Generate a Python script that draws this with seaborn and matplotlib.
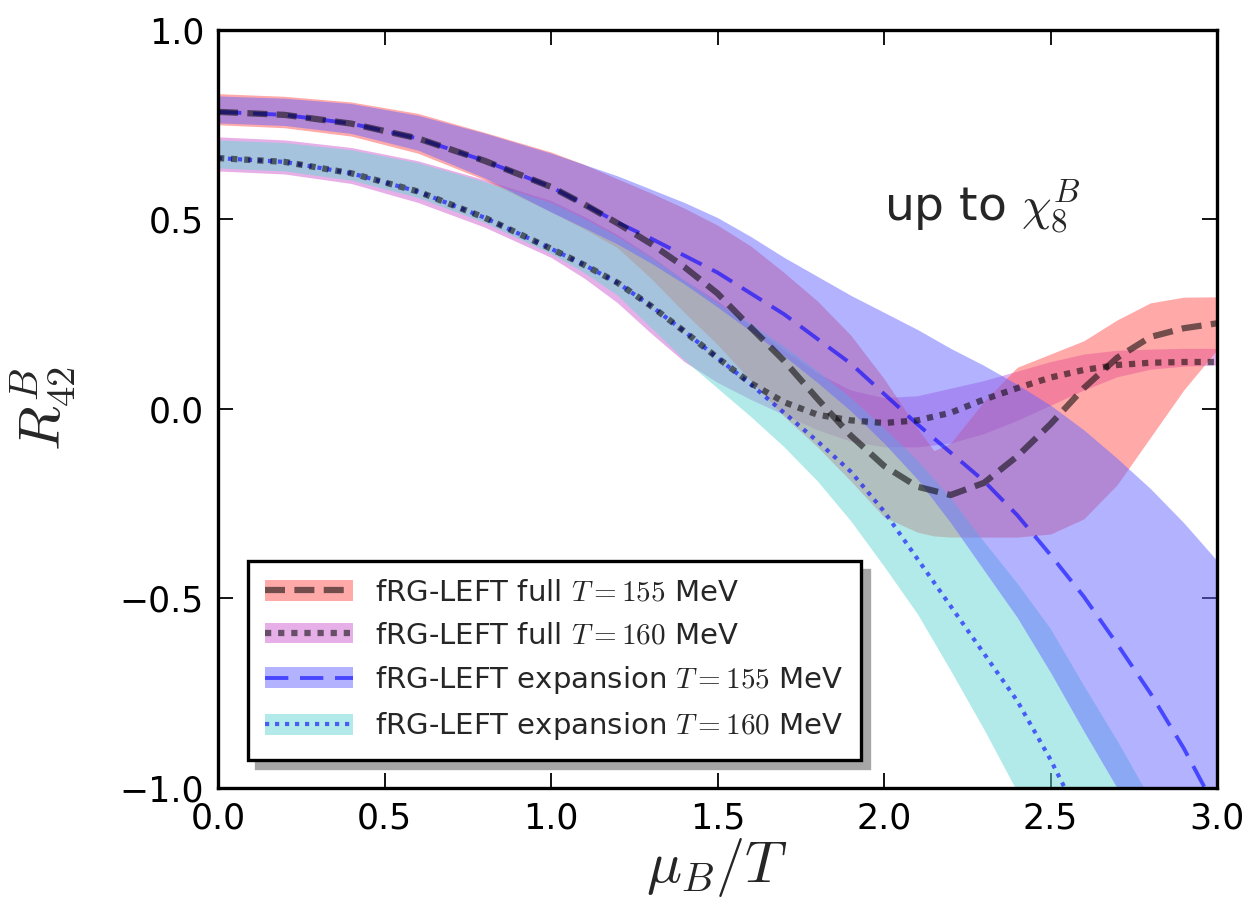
import matplotlib
matplotlib.use("Agg")
import matplotlib.pyplot as plt
import matplotlib.patches as mpatches
from matplotlib.lines import Line2D
from matplotlib.legend_handler import HandlerTuple
import seaborn as sns

# ---------------- data ----------------
mu = [0.0, 0.2, 0.4, 0.6, 0.8, 1.0, 1.1, 1.2, 1.3, 1.4, 1.5, 1.6, 1.7, 1.8, 1.9,
      2.0, 2.1, 2.2, 2.3, 2.4, 2.5, 2.6, 2.7, 2.8, 2.9, 3.0]

# fRG-LEFT full, T = 155 MeV
full155_mid = [0.784, 0.776, 0.753, 0.714, 0.655, 0.586, 0.54, 0.49, 0.436, 0.375,
               0.305, 0.215, 0.127, 0.027, -0.07, -0.15, -0.205, -0.227, -0.195,
               -0.125, -0.04, 0.055, 0.135, 0.19, 0.213, 0.226]
full155_band_mu = [0.0, 0.2, 0.4, 0.6, 0.8, 1.0, 1.1, 1.2, 1.3, 1.4, 1.5, 1.6, 1.7,
                   1.8, 1.9, 2.0, 2.1, 2.15, 2.2, 2.3, 2.4, 2.5, 2.6, 2.7, 2.8, 2.9, 3.0]
full155_hi = [0.832, 0.825, 0.81, 0.78, 0.73, 0.678, 0.645, 0.607, 0.57, 0.53, 0.485,
              0.43, 0.36, 0.285, 0.195, 0.08, -0.05, -0.11, -0.09, 0.02, 0.11, 0.145,
              0.18, 0.235, 0.28, 0.295, 0.296]
full155_lo = [0.75, 0.742, 0.72, 0.675, 0.605, 0.52, 0.475, 0.425, 0.345, 0.255, 0.17,
              0.075, -0.02, -0.1, -0.19, -0.285, -0.325, -0.335, -0.338, -0.338,
              -0.338, -0.33, -0.29, -0.2, -0.075, 0.05, 0.156]

# fRG-LEFT full, T = 160 MeV
full160_mid = [0.662, 0.652, 0.622, 0.574, 0.505, 0.423, 0.38, 0.333, 0.272, 0.205,
               0.135, 0.068, 0.018, -0.015, -0.03, -0.037, -0.03, -0.01, 0.025, 0.055,
               0.083, 0.103, 0.116, 0.122, 0.124, 0.124]
full160_hi = [0.718, 0.71, 0.69, 0.655, 0.605, 0.55, 0.508, 0.46, 0.403, 0.34, 0.285,
              0.22, 0.155, 0.095, 0.05, 0.03, 0.035, 0.055, 0.075, 0.1, 0.125, 0.145,
              0.155, 0.158, 0.16, 0.16]
full160_lo = [0.628, 0.62, 0.595, 0.545, 0.48, 0.40, 0.345, 0.28, 0.2, 0.125, 0.07,
              0.025, -0.015, -0.055, -0.085, -0.1, -0.1, -0.09, -0.065, -0.03, 0.01,
              0.05, 0.085, 0.105, 0.113, 0.116]

# fRG-LEFT expansion, T = 155 MeV
exp155_mid = [0.784, 0.776, 0.753, 0.714, 0.655, 0.586, 0.54, 0.492, 0.45, 0.405,
              0.36, 0.305, 0.25, 0.185, 0.12, 0.04, -0.04, -0.115, -0.19, -0.28,
              -0.385, -0.495, -0.62, -0.75, -0.895, -1.06]
exp155_hi = [0.826, 0.82, 0.806, 0.775, 0.728, 0.675, 0.645, 0.615, 0.58, 0.545,
             0.505, 0.455, 0.40, 0.35, 0.30, 0.255, 0.21, 0.16, 0.115, 0.065, 0.01,
             -0.055, -0.13, -0.21, -0.30, -0.40]
exp155_lo = [0.755, 0.748, 0.727, 0.683, 0.61, 0.52, 0.478, 0.435, 0.385, 0.33,
             0.269, 0.205, 0.14, 0.07, -0.005, -0.09, -0.185, -0.3, -0.425, -0.55,
             -0.695, -0.85, -1.0, -1.15, -1.3, -1.45]

# fRG-LEFT expansion, T = 160 MeV
exp160_line_mu = [0.0, 0.2, 0.4, 0.6, 0.8, 1.0, 1.1, 1.2, 1.3, 1.4, 1.5, 1.6, 1.7,
                  1.8, 1.9, 2.0, 2.1, 2.2, 2.3, 2.4, 2.5, 2.6]
exp160_mid = [0.662, 0.652, 0.622, 0.574, 0.505, 0.423, 0.38, 0.333, 0.272, 0.205,
              0.135, 0.065, -0.01, -0.085, -0.165, -0.27, -0.395, -0.52, -0.645,
              -0.77, -0.925, -1.1]
exp160_band_mu = [0.0, 0.2, 0.4, 0.6, 0.8, 1.0, 1.1, 1.2, 1.3, 1.4, 1.5, 1.6, 1.7,
                  1.8, 1.9, 2.0, 2.1, 2.2, 2.3, 2.4, 2.5, 2.6, 2.7, 2.8]
exp160_hi = [0.71, 0.703, 0.684, 0.65, 0.6, 0.545, 0.503, 0.455, 0.4, 0.34, 0.28,
             0.225, 0.165, 0.10, 0.03, -0.05, -0.135, -0.235, -0.35, -0.46, -0.58,
             -0.73, -0.875, -1.03]
exp160_lo = [0.636, 0.628, 0.604, 0.558, 0.492, 0.41, 0.36, 0.30, 0.215, 0.13, 0.055,
             -0.02, -0.1, -0.19, -0.295, -0.415, -0.54, -0.69, -0.845, -1.01, -1.18,
             -1.35, -1.5, -1.65]

labels = [r"fRG-LEFT full $T=155$ MeV",
          r"fRG-LEFT full $T=160$ MeV",
          r"fRG-LEFT expansion $T=155$ MeV",
          r"fRG-LEFT expansion $T=160$ MeV"]
x_ticks = [0.0, 0.5, 1.0, 1.5, 2.0, 2.5, 3.0]
y_ticks = [-1.0, -0.5, 0.0, 0.5, 1.0]

# ---------------- style ----------------
sns.set_style("ticks")
plt.rcParams["font.family"] = ["DejaVu Sans"]
plt.rcParams["mathtext.fontset"] = "cm"

c_red = "#ff5555"
c_violet = "#d161d1"
c_blue = "#6767ff"
c_cyan = "#65d7d5"
band_alpha = 0.5

fig = plt.figure(figsize=(12.5, 9.17), dpi=100)
ax = fig.add_axes([0.1744, 0.1407, 0.7992, 0.8266])

# bands
ax.fill_between(mu, full160_lo, full160_hi, color=c_violet, alpha=band_alpha, lw=0)
ax.fill_between(full155_band_mu, full155_lo, full155_hi, color=c_red, alpha=band_alpha, lw=0)
ax.fill_between(exp160_band_mu, exp160_lo, exp160_hi, color=c_cyan, alpha=band_alpha, lw=0)
ax.fill_between(mu, exp155_lo, exp155_hi, color=c_blue, alpha=band_alpha, lw=0)

# lines
ls_full155 = (0, (3.2, 1.5))
ls_full160 = (0, (1.0, 1.1))
ls_exp155 = (0, (6.0, 3.0))
ls_exp160 = (0, (1.0, 1.4))

sns.lineplot(x=mu, y=exp155_mid, ax=ax, color="#0000ff", alpha=0.6,
             lw=2.8, linestyle=ls_exp155, estimator=None, sort=False)
sns.lineplot(x=exp160_line_mu, y=exp160_mid, ax=ax, color="#0000ff", alpha=0.6,
             lw=3.0, linestyle=ls_exp160, estimator=None, sort=False)
sns.lineplot(x=mu, y=full155_mid, ax=ax, color="black", alpha=0.55,
             lw=4.5, linestyle=ls_full155, estimator=None, sort=False)
sns.lineplot(x=mu, y=full160_mid, ax=ax, color="black", alpha=0.55,
             lw=4.5, linestyle=ls_full160, estimator=None, sort=False)

ax.set_xlim(0, 3)
ax.set_ylim(-1, 1)
ax.set_xticks(x_ticks)
ax.set_yticks(y_ticks)
ax.tick_params(direction="in", length=11, width=1.3, top=True, right=True,
               labelsize=25, pad=10, colors="black")
for s in ax.spines.values():
    s.set_linewidth(2.4)
    s.set_color("black")
    s.set_visible(True)

ax.set_xlabel(r"$\mu_B/T$", fontsize=42, labelpad=0)
ax.set_ylabel(r"$R^B_{42}$", fontsize=42, labelpad=30)

ax.text(2.0, 0.5, r"up to $\chi_8^B$", fontsize=34, va="baseline", ha="left")

# legend
handles = [
    (mpatches.Patch(facecolor=c_red, alpha=band_alpha, lw=0),
     Line2D([], [], color="black", alpha=0.55, lw=4.5, linestyle=ls_full155)),
    (mpatches.Patch(facecolor=c_violet, alpha=band_alpha, lw=0),
     Line2D([], [], color="black", alpha=0.55, lw=4.5, linestyle=ls_full160)),
    (mpatches.Patch(facecolor=c_blue, alpha=band_alpha, lw=0),
     Line2D([], [], color="#0000ff", alpha=0.6, lw=2.8, linestyle=ls_exp155)),
    (mpatches.Patch(facecolor=c_cyan, alpha=band_alpha, lw=0),
     Line2D([], [], color="#0000ff", alpha=0.6, lw=3.0, linestyle=ls_exp160)),
]
leg_kw = dict(loc="lower left", bbox_to_anchor=(0.03, 0.037), borderaxespad=0,
              fontsize=21, handlelength=3.0, handleheight=0.72, handletextpad=0.75,
              labelspacing=0.5, borderpad=0.6, fancybox=False, framealpha=1,
              edgecolor="black", handler_map={tuple: HandlerTuple(ndivide=1)})
try:
    leg = ax.legend(handles, labels, shadow={"ox": 6, "oy": -6, "color": "#a6a6a6",
                                             "alpha": 1.0}, **leg_kw)
except Exception:
    leg = ax.legend(handles, labels, shadow=True, **leg_kw)
leg.get_frame().set_linewidth(2.4)
leg.set_zorder(10)

fig.savefig("out.png", dpi=100)
